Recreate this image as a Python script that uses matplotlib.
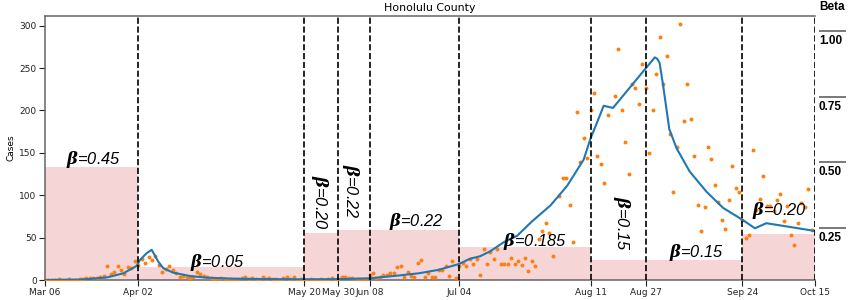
import numpy as np
import pandas as pd
import matplotlib
matplotlib.use('Agg')
import matplotlib.pyplot as plt
import matplotlib.dates as mdates
import matplotlib.transforms as mtransforms

plt.rcParams['mathtext.fontset'] = 'dejavuserif'

start = pd.Timestamp('2020-03-06')

# daily reported cases, Mar 06 .. Oct 15 (nan = no point)
cases = [
    # Mar 06-31
    0, 0, 0, 0, 1, 0, 0, 1, 0, 0, 1, 1, 2, 2, 2, 2, 4, 5, 16, 7, 9, 16, 12, 7, 15, 14,
    # Apr
    23, 18, 25, 20, 27, 24, 28, 18, 9, 13, 16, 12, 8, 4, 5, 3, 2, 3, 9, 7,
    5, 3, 2, 1, 1, 2, 1, 0, 1, 1,
    # May
    1, 2, 4, 1, 2, 1, 0, 4, 1, 2, 1, 1, 0, 2, 4, 1, 4, 0, 1, 0,
    0, 1, 0, 0, 1, 0, 1, 2, 0, 1, 3,
    # Jun
    3, 2, 2, 1, 1, 0, 1, 6, 8, 2, 3, 6, 6, 8, 8, 15, 17, 4, 9, 5,
    4, 20, 24, 4, 8, 4, 3, 12, 12, 17,
    # Jul
    5, 23, 2, 16, 20, 17, 25, 19, 25, 6, 37, 19, 33, 25, 37, 19, 19, 19, 26, 19,
    22, 18, 26, 11, 22, 17, 48, 58, 67, 55, 28,
    # Aug
    np.nan, 99, 120, 120, 88, 45, 198, 139, 168, 144, 200, 220, 146, 137, 115, 195,
    np.nan, 217, 272, 200, 163, 125, 231, 227, 208, 255, 227, 150, 201, 243, 287,
    # Sep
    231, 264, 172, 104, 157, 302, 188, 231, 190, 146, 89, 58, 86, 157, 143, 112,
    92, 71, 60, 94, 135, 109, 104, 71, 49, 53, 153, 82, 96, 123,
    # Oct 01-15
    87, 87, 81, 94, 102, 70, 87, 53, 41, 67, 91, 86, 107, 59, np.nan,
]
days = pd.date_range(start, periods=len(cases), freq='D')

# fitted model curve (days after Mar 06, cases)
fit_day = [0, 10, 13, 18, 22.7, 26.5, 27.5, 29.4, 30.9, 32.8, 34.3, 37.1, 42, 46.8,
           55, 65, 75, 85, 94, 101.7, 108.4, 114, 120, 123, 126, 129, 133, 136.7,
           141, 146.4, 151.2, 156, 158, 159.7, 161.8, 164.5, 176.6, 177.3, 178,
           179, 180.8, 182.9, 186.7, 191.6, 196.4, 201.2, 202, 205.6, 208.9, 222, 223]
fit_val = [0, 0.5, 1.2, 3.1, 7.9, 16.5, 23.6, 31.5, 35.6, 21.7, 13.8, 8.7, 4.7, 2.8,
           1.5, 1.0, 0.8, 1.0, 2, 5, 8, 12, 19, 25, 28, 34, 45, 52,
           69, 88, 111, 142, 167, 184, 205.5, 203, 262.6, 261, 256,
           230, 178, 155.5, 128, 104, 85, 73, 71, 61, 67, 58.5, 57.5]
fit_dates = start + pd.to_timedelta(fit_day, unit='D')

# intervention dates and transmission rate per period
change_dates = pd.to_datetime(['2020-03-06', '2020-04-02', '2020-05-20', '2020-05-30',
                               '2020-06-08', '2020-07-04', '2020-08-11', '2020-08-27',
                               '2020-09-24', '2020-10-15'])
beta_labels = ['0.45', '0.05', '0.20', '0.22', '0.22', '0.185', '0.15', '0.15', '0.20']
bar_tops = [133.6, 15.7, 55, 59, 59, 39.4, 23.6, 23.6, 54]

beta_ticks = [0.25, 0.50, 0.75, 1.00]

fig = plt.figure(figsize=(8.64, 3.0), dpi=100)
ax = fig.add_axes([45 / 864, 20 / 300, 770 / 864, 264.5 / 300])

# shaded beta bars
lefts = mdates.date2num(change_dates[:-1])
widths = np.diff(mdates.date2num(change_dates))
ax.bar(lefts, bar_tops, width=widths, align='edge', color='#f5d5d6', zorder=0)

ax.scatter(days, cases, s=8, color='#ff7f0e', zorder=3, linewidths=0)
ax.plot(fit_dates, fit_val, color='#1f77b4', lw=1.5, zorder=4)

for d in change_dates[1:]:
    ax.axvline(d, color='black', ls='--', lw=1.2, zorder=5)

ax.set_xlim(change_dates[0], change_dates[-1])
ax.set_ylim(0, 312)
ax.set_xticks(change_dates)
ax.xaxis.set_major_formatter(mdates.DateFormatter('%b %d'))
ax.set_yticks(range(0, 301, 50))
ax.tick_params(labelsize=6.5, length=4, width=0.8, pad=2, colors='#222222')
ax.set_ylabel('Cases', fontsize=6.5, labelpad=3)
ax.set_title('Honolulu County', fontsize=7.9, pad=3)
for side in ['top', 'left', 'bottom']:
    ax.spines[side].set_color('#666666')
    ax.spines[side].set_linewidth(1.1)
ax.spines['right'].set_visible(False)

# beta annotations: (days after start, y, rotation)
placements = [(14, 137, 0), (50, 15.5, 0), (79.6, 92, 270), (88.6, 105, 270),
              (107.5, 63.5, 0), (141.9, 40.5, 0), (167, 67, 270), (188.6, 27.5, 0),
              (212.8, 76.5, 0)]
for lab, (dx, yy, rot) in zip(beta_labels, placements):
    xx = start + pd.Timedelta(days=dx)
    ax.text(xx, yy, r'$\boldsymbol{\beta}$=' + lab, fontsize=11.8,
            family='Liberation Sans', style='italic', rotation=rot,
            ha='center', va='baseline' if rot == 0 else 'center', zorder=6)

# right hand beta scale
ax2 = ax.twinx()
ax2.set_ylim(0.0504, 1.0603)
ax2.set_yticks(beta_ticks)
ax2.tick_params(axis='y', length=19.4, width=1.1, color='#555555', labelright=False)
for side in ax2.spines:
    ax2.spines[side].set_visible(False)
ax2.spines['right'].set_position(('outward', 3))
trans = mtransforms.blended_transform_factory(ax.transAxes, ax2.transData)
trans = mtransforms.offset_copy(trans, fig=fig, y=-4, units='dots')
for b in beta_ticks:
    ax2.text(1.005, b, '%.2f' % b, transform=trans, ha='left', va='top',
             fontsize=8.5, weight='bold', family='Liberation Sans')
ax.text(1.005, 1.021, 'Beta', transform=ax.transAxes, ha='left', va='baseline',
        fontsize=8.5, weight='bold', family='Liberation Sans')

fig.savefig('out.png', dpi=100)
